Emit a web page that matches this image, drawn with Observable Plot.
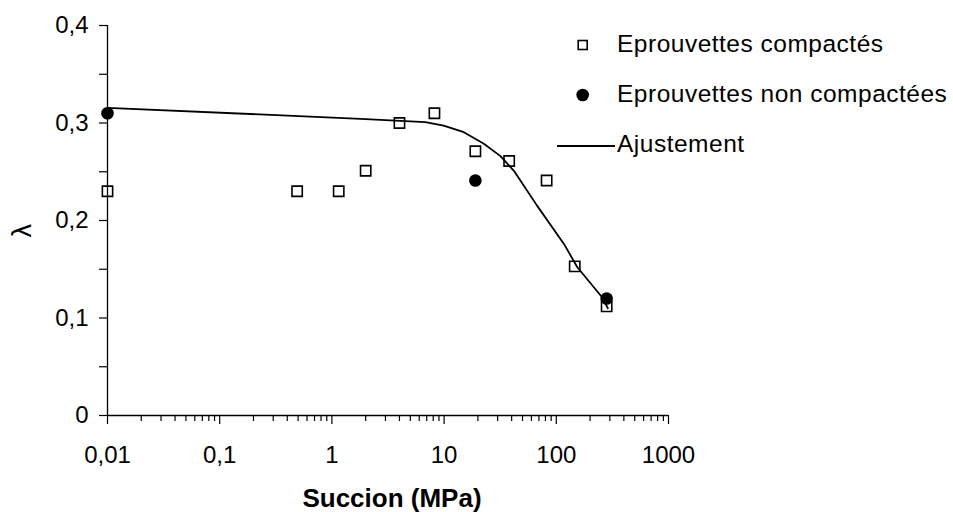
<!DOCTYPE html>
<html>
<head>
<meta charset="utf-8">
<script src="https://cdn.jsdelivr.net/npm/d3@7"></script>
<script src="https://cdn.jsdelivr.net/npm/@observablehq/plot@0.6"></script>
<style>
  html, body { margin: 0; padding: 0; background: #fff; }
  #chart { width: 953px; height: 512px; }
</style>
</head>
<body>
<div id="chart"></div>
<script>
// Eprouvettes compactés (square markers)
const xCompact = [0.01, 0.49, 1.15, 2, 4, 8.2, 19, 38, 82, 146, 281];
const yCompact = [0.23, 0.23, 0.23, 0.251, 0.30, 0.31, 0.271, 0.261, 0.241, 0.153, 0.112];
// Eprouvettes non compactées (filled circles)
const xNonCompact = [0.01, 19, 281];
const yNonCompact = [0.31, 0.241, 0.12];
// Ajustement (fitted line)
const xFit = [0.01, 1.8, 6.8, 9.9, 15, 22.6, 31.8, 41.9, 67.6, 117, 154, 257, 288];
const yFit = [0.3156, 0.3043, 0.3008, 0.2974, 0.2906, 0.2787, 0.266, 0.251, 0.215, 0.176, 0.152, 0.121, 0.110];

const xMajorTicks = [0.01, 0.1, 1, 10, 100, 1000];
const xTickLabels = ["0,01", "0,1", "1", "10", "100", "1000"];
const yTicks = [0, 0.05, 0.1, 0.15, 0.2, 0.25, 0.3, 0.35, 0.4];
const yTickLabels = ["0", "", "0,1", "", "0,2", "", "0,3", "", "0,4"];
const xTitle = "Succion (MPa)";
const yTitle = "λ";
const legendLabels = ["Eprouvettes compactés", "Eprouvettes non compactées", "Ajustement"];
const legendKinds = ["square", "circle", "line"];

const compact = xCompact.map((x, i) => ({x, y: yCompact[i]}));
const nonCompact = xNonCompact.map((x, i) => ({x, y: yNonCompact[i]}));
const fit = xFit.map((x, i) => ({x, y: yFit[i]}));

const xMinorTicks = [];
for (let k = 0; k < xMajorTicks.length - 1; k++) {
  for (let m = 2; m <= 9; m++) xMinorTicks.push(xMajorTicks[k] * m);
}

const font = "'Liberation Sans', Arial, sans-serif";

const chart = Plot.plot({
  width: 953,
  height: 512,
  marginLeft: 107,
  marginRight: 285,
  marginTop: 25,
  marginBottom: 97,
  style: {fontFamily: font, fontSize: "24px", color: "#000", background: "#fff", overflow: "visible"},
  x: {type: "log", domain: [0.01, 1000], axis: null},
  y: {domain: [0, 0.4], axis: null},
  marks: [
    Plot.ruleX([0.01], {y1: 0, y2: 0.4, stroke: "#000", strokeWidth: 1.3}),
    Plot.ruleY([0], {x1: 0.01, x2: 1000, stroke: "#000", strokeWidth: 1.3}),
    Plot.axisY({
      ticks: yTicks,
      tickSize: 8,
      tickPadding: 11,
      tickFormat: (d) => yTickLabels[yTicks.indexOf(d)],
      stroke: "#000",
      strokeWidth: 1.2,
      fill: "#000",
      label: null
    }),
    Plot.axisX({
      ticks: xMinorTicks,
      tickSize: 6,
      tickFormat: () => "",
      stroke: "#000",
      strokeWidth: 1.2,
      label: null
    }),
    Plot.axisX({
      ticks: xMajorTicks,
      tickSize: 9,
      tickPadding: 21,
      tickFormat: d => xTickLabels[xMajorTicks.indexOf(d)],
      stroke: "#000",
      strokeWidth: 1.2,
      fill: "#000",
      label: null
    }),
    Plot.dot(compact, {x: "x", y: "y", symbol: "square", r: 5.8, stroke: "#000", strokeWidth: 1.6, fill: "none"}),
    Plot.dot(nonCompact, {x: "x", y: "y", symbol: "circle", r: 6.3, fill: "#000", stroke: "none"}),
    Plot.line(fit, {x: "x", y: "y", stroke: "#000", strokeWidth: 1.8}),
    Plot.text([xTitle], {frameAnchor: "bottom", lineAnchor: "bottom", dy: 91, dx: 4, fontWeight: "bold", fontSize: 26, fill: "#000"}),
    Plot.text([yTitle], {frameAnchor: "left", rotate: -90, dx: -85, dy: 17, fontSize: 27, fill: "#000"})
  ]
});

document.getElementById("chart").appendChild(chart);

// Legend
const svg = d3.select(chart);
const lg = svg.append("g").attr("font-family", font).attr("font-size", 24.5)
  .attr("letter-spacing", "0.5px").attr("fill", "#000").attr("text-anchor", "start");
const legendX = 582.7, legendTextX = 617, legendY0 = 45, legendStep = 50;
legendLabels.forEach((label, i) => {
  const cy = legendY0 + i * legendStep;
  const kind = legendKinds[i];
  if (kind === "square") {
    lg.append("rect").attr("x", legendX - 4.5).attr("y", cy - 4.5).attr("width", 9).attr("height", 9)
      .attr("fill", "none").attr("stroke", "#000").attr("stroke-width", 1.6);
  } else if (kind === "circle") {
    lg.append("circle").attr("cx", legendX).attr("cy", cy).attr("r", 6.3).attr("fill", "#000");
  } else {
    lg.append("line").attr("x1", 557).attr("x2", 615).attr("y1", cy + 1).attr("y2", cy + 1)
      .attr("stroke", "#000").attr("stroke-width", 1.8);
  }
  lg.append("text").attr("x", legendTextX).attr("y", cy - 1.5).attr("dy", "0.35em").attr("text-anchor", "start").text(label);
});
</script>
</body>
</html>
